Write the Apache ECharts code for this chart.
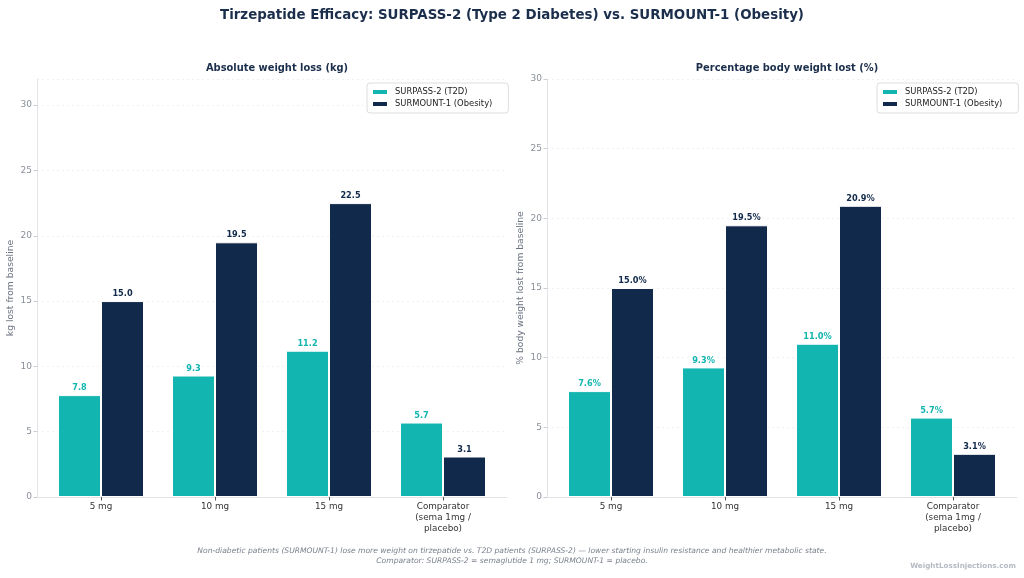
<!DOCTYPE html>
<html><head><meta charset="utf-8">
<script src="https://cdn.jsdelivr.net/npm/echarts@6/dist/echarts.min.js"></script>
<style>html,body{margin:0;padding:0;background:#fff}#c{width:1024px;height:578px}</style>
</head><body><div id="c"></div>
<script>
const categories = ['5 mg', '10 mg', '15 mg', 'Comparator\n(sema 1mg /\nplacebo)'];
const seriesNames = ['SURPASS-2 (T2D)', 'SURMOUNT-1 (Obesity)'];
const kgT2D = [7.8, 9.3, 11.2, 5.7];
const kgObesity = [15.0, 19.5, 22.5, 3.1];
const pctT2D = [7.6, 9.3, 11.0, 5.7];
const pctObesity = [15.0, 19.5, 20.9, 3.1];
const leftYTicks = {min: 0, max: 32, interval: 5};
const rightYTicks = {min: 0, max: 30, interval: 5};

const TEAL = '#13b5b0', NAVY = '#11294a', FONT = 'DejaVu Sans';
const chart = echarts.init(document.getElementById('c'));

function axisGridY(gi, ticks, name) {
  return {gridIndex: gi, type: 'value', min: ticks.min, max: ticks.max, interval: ticks.interval,
    name: name, nameLocation: 'middle', nameGap: 22,
    nameTextStyle: {fontFamily: FONT, fontSize: 9.2, color: '#6b7280'},
    axisLine: {show: true, lineStyle: {color: '#e2e4e8'}},
    axisTick: {show: true, length: 3.5, lineStyle: {color: '#c9ccd2'}},
    axisLabel: {fontFamily: FONT, fontSize: 9, color: '#8a8f99', margin: 5, showMaxLabel: ticks.max % ticks.interval === 0},
    splitLine: {show: true, lineStyle: {color: '#eeeeee', type: [2, 3], width: 0.8}}};
}
function hiddenY(gi, ticks) {
  return {gridIndex: gi, type: 'value', min: ticks.min, max: ticks.max, interval: ticks.interval, show: false};
}
function lineX(gi) {
  return {gridIndex: gi, type: 'value', min: 0, max: 1, axisLine: {show: true, lineStyle: {color: '#e2e4e8'}},
    axisTick: {show: false}, axisLabel: {show: false}, splitLine: {show: false}};
}
function catX(gi) {
  return {gridIndex: gi, type: 'category', data: categories,
    axisLine: {show: false},
    axisTick: {show: true, alignWithLabel: true, length: 3.5, lineStyle: {color: '#555'}},
    axisLabel: {fontFamily: FONT, fontSize: 8.8, color: '#333', margin: 4, lineHeight: 11, interval: 0}};
}
function bar(name, gi, data, color, fmt) {
  return {name: name, type: 'bar', xAxisIndex: gi, yAxisIndex: gi, data: data,
    barWidth: 43, barGap: '0%',
    itemStyle: {color: color, borderColor: '#ffffff', borderWidth: 1},
    label: {show: true, position: 'top', distance: 3, formatter: p => p.value.toFixed(1) + fmt,
      fontFamily: FONT, fontSize: 8.2, fontWeight: 'bold', color: color}};
}
function legend(left) {
  return {data: seriesNames, orient: 'vertical', left: left, top: 83, itemWidth: 16, itemHeight: 6,
    itemGap: 4, icon: 'rect', backgroundColor: '#fff', borderColor: '#dddddd', borderWidth: 1,
    borderRadius: 3, padding: [5, 16, 5, 4],
    textStyle: {fontFamily: FONT, fontSize: 8.4, color: '#222', padding: [0, 0, 0, 2]}};
}

chart.setOption({
  animation: false,
  backgroundColor: '#fff',
  title: [
    {text: 'Tirzepatide Efficacy: SURPASS-2 (Type 2 Diabetes) vs. SURMOUNT-1 (Obesity)', left: 'center', top: 4,
     textStyle: {fontFamily: FONT, fontSize: 13.4, fontWeight: 'bold', color: '#1b2e4b'}},
    {text: 'Absolute weight loss (kg)', left: 272, textAlign: 'center', top: 58,
     textStyle: {fontFamily: FONT, fontSize: 9.9, fontWeight: 'bold', color: '#1b2e4b'}},
    {text: 'Percentage body weight lost (%)', left: 782, textAlign: 'center', top: 58,
     textStyle: {fontFamily: FONT, fontSize: 9.9, fontWeight: 'bold', color: '#1b2e4b'}}
  ],
  legend: [legend(367), legend(877)],
  grid: [
    {left: 37, width: 470, top: 79, bottom: 81},
    {left: 44, width: 456, top: 79, bottom: 81},
    {left: 547, width: 470, top: 79, bottom: 81},
    {left: 554, width: 456, top: 79, bottom: 81}
  ],
  xAxis: [lineX(0), catX(1), lineX(2), catX(3)],
  yAxis: [axisGridY(0, leftYTicks, 'kg lost from baseline'), hiddenY(1, leftYTicks),
          axisGridY(2, rightYTicks, '% body weight lost from baseline'), hiddenY(3, rightYTicks)],
  series: [
    bar(seriesNames[0], 1, kgT2D, TEAL, ''),
    bar(seriesNames[1], 1, kgObesity, NAVY, ''),
    bar(seriesNames[0], 3, pctT2D, TEAL, '%'),
    bar(seriesNames[1], 3, pctObesity, NAVY, '%')
  ],
  graphic: [
    {type: 'text', left: 'center', top: 546, style: {
      text: 'Non-diabetic patients (SURMOUNT-1) lose more weight on tirzepatide vs. T2D patients (SURPASS-2) — lower starting insulin resistance and healthier metabolic state.\nComparator: SURPASS-2 = semaglutide 1 mg; SURMOUNT-1 = placebo.',
      textAlign: 'center', fontFamily: FONT, fontSize: 7.6, fontStyle: 'italic', fill: '#7a808c', lineHeight: 10}},
    {type: 'text', right: 8, top: 563, style: {text: 'WeightLossInjections.com', fontFamily: FONT,
      fontSize: 7.2, fontWeight: 'bold', fill: '#b5bac3'}}
  ]
});
</script></body></html>
